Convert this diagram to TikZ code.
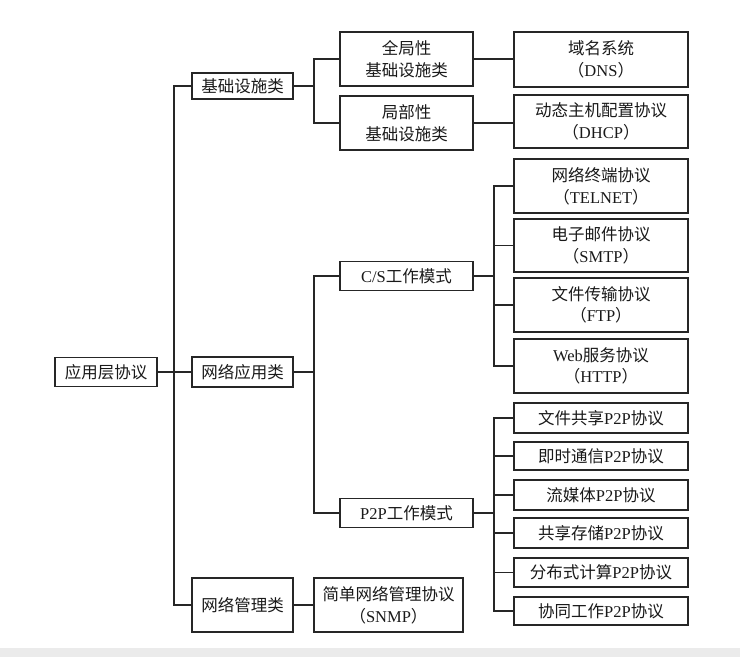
\documentclass[tikz,border=0pt]{standalone}
\usepackage{fontspec}
\setmainfont{Liberation Serif}
\newfontfamily\cjk{Noto Sans CJK SC}
\newcommand{\zh}[1]{{\cjk #1}}
\begin{document}
\begin{tikzpicture}[x=1pt,y=-1pt,
  box/.style={draw=black!85,line width=1.2pt,align=center,inner sep=0pt,
    font=\fontsize{16.5}{21.5}\selectfont,text=black!90},
  link/.style={draw=black!85,line width=1.1pt}]
\useasboundingbox (0,0) rectangle (740,657);
\fill[black!8] (0,648) rectangle (740,657);
% level 0
\node[box,minimum width=102pt,minimum height=29pt] (root) at (106,372) {\zh{应用层协议}};
% level 1
\node[box,minimum width=101pt,minimum height=26pt] (jc) at (242.5,86) {\zh{基础设施类}};
\node[box,minimum width=101pt,minimum height=30pt] (wy) at (242.5,372) {\zh{网络应用类}};
\node[box,minimum width=101pt,minimum height=54pt] (gl) at (242.5,605) {\zh{网络管理类}};
% level 2
\node[box,minimum width=133pt,minimum height=54pt] (qj) at (406.5,59) {\zh{全局性}\\\zh{基础设施类}};
\node[box,minimum width=133pt,minimum height=54pt] (jb) at (406.5,123) {\zh{局部性}\\\zh{基础设施类}};
\node[box,minimum width=133pt,minimum height=29pt] (cs) at (406.5,276) {C/S\zh{工作模式}};
\node[box,minimum width=133pt,minimum height=29pt] (pp) at (406.5,513) {P2P\zh{工作模式}};
\node[box,minimum width=149pt,minimum height=54pt] (snmp) at (388.5,605) {\zh{简单网络管理协议}\\\zh{（}SNMP\zh{）}};
% level 3
\node[box,minimum width=174pt,minimum height=55pt] (dns) at (601,59.5) {\zh{域名系统}\\\zh{（}DNS\zh{）}};
\node[box,minimum width=174pt,minimum height=53pt] (dhcp) at (601,121.5) {\zh{动态主机配置协议}\\\zh{（}DHCP\zh{）}};
\node[box,minimum width=174pt,minimum height=54pt] (telnet) at (601,186) {\zh{网络终端协议}\\\zh{（}TELNET\zh{）}};
\node[box,minimum width=174pt,minimum height=53pt] (smtp) at (601,245.5) {\zh{电子邮件协议}\\\zh{（}SMTP\zh{）}};
\node[box,minimum width=174pt,minimum height=54pt] (ftp) at (601,305) {\zh{文件传输协议}\\\zh{（}FTP\zh{）}};
\node[box,minimum width=174pt,minimum height=54pt] (http) at (601,366) {Web\zh{服务协议}\\\zh{（}HTTP\zh{）}};
\node[box,minimum width=174pt,minimum height=30pt] (fs) at (601,418) {\zh{文件共享}P2P\zh{协议}};
\node[box,minimum width=174pt,minimum height=28pt] (im) at (601,456) {\zh{即时通信}P2P\zh{协议}};
\node[box,minimum width=174pt,minimum height=30pt] (sm) at (601,495) {\zh{流媒体}P2P\zh{协议}};
\node[box,minimum width=174pt,minimum height=30pt] (ss) at (601,533) {\zh{共享存储}P2P\zh{协议}};
\node[box,minimum width=174pt,minimum height=29pt] (dc) at (601,572.5) {\zh{分布式计算}P2P\zh{协议}};
\node[box,minimum width=174pt,minimum height=28pt] (cw) at (601,611) {\zh{协同工作}P2P\zh{协议}};
% bus coordinates
\coordinate (t0) at (174,0);
\coordinate (t1) at (314,0);
\coordinate (t2) at (494,0);
% root trunk
\draw[link] (root.east) -- (root.east -| t0);
\draw[link] (jc.west) -- (jc.west -| t0) -- (gl.west -| t0) -- (gl.west);
\draw[link] (wy.west) -- (wy.west -| t0);
% infrastructure
\draw[link] (jc.east) -- (jc.east -| t1);
\draw[link] (qj.west) -- (qj.west -| t1) -- (jb.west -| t1) -- (jb.west);
\draw[link] (qj.east) -- (dns.west |- qj.east);
\draw[link] (jb.east) -- (dhcp.west |- jb.east);
% network applications
\draw[link] (wy.east) -- (wy.east -| t1);
\draw[link] (cs.west) -- (cs.west -| t1) -- (pp.west -| t1) -- (pp.west);
\draw[link] (cs.east) -- (cs.east -| t2);
\draw[link] (telnet.west) -- (telnet.west -| t2) -- (http.west -| t2) -- (http.west);
\draw[link] (smtp.west) -- (smtp.west -| t2);
\draw[link] (ftp.west) -- (ftp.west -| t2);
\draw[link] (pp.east) -- (pp.east -| t2);
\draw[link] (fs.west) -- (fs.west -| t2) -- (cw.west -| t2) -- (cw.west);
\draw[link] (im.west) -- (im.west -| t2);
\draw[link] (sm.west) -- (sm.west -| t2);
\draw[link] (ss.west) -- (ss.west -| t2);
\draw[link] (dc.west) -- (dc.west -| t2);
% management
\draw[link] (gl.east) -- (snmp.west);
\end{tikzpicture}
\end{document}
